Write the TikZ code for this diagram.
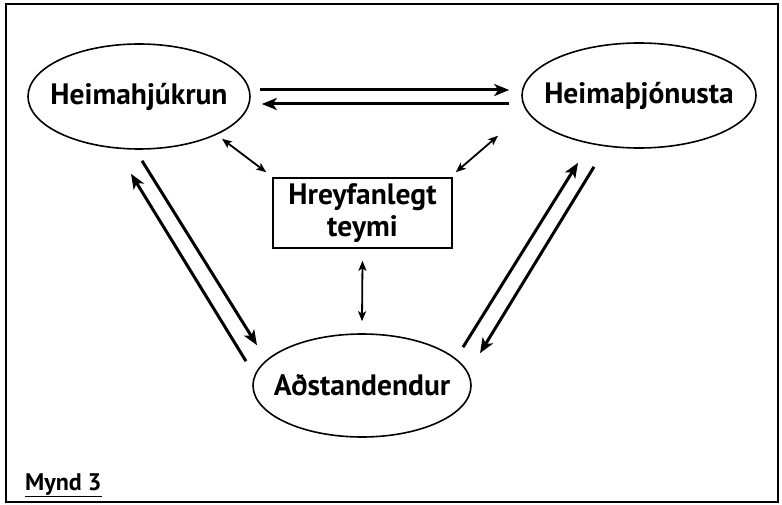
\documentclass[tikz,border=0pt]{standalone}
\usepackage{fontspec}
\setmainfont{PT Sans}
\usetikzlibrary{arrows.meta,shapes.geometric}

\tikzset{
  oval/.style={draw,ellipse,line width=1.6pt,inner xsep=-30pt,inner ysep=-10pt,font=\fontsize{29.5}{33}\selectfont\bfseries},
  teambox/.style={draw,rectangle,line width=1.6pt,inner sep=0pt,align=center,font=\fontsize{29.5}{32}\selectfont\bfseries},
  flow/.style={line width=3pt,-{Stealth[length=15pt,width=12pt,inset=4pt]}},
  link/.style={line width=1.8pt,{Stealth[length=10pt,width=8pt,inset=2.5pt]}-{Stealth[length=10pt,width=8pt,inset=2.5pt]}}
}

\begin{document}
\begin{tikzpicture}[line cap=butt,line join=miter,x=1pt,y=-1pt]%Mynd 3
			\useasboundingbox (0,0) rectangle (782,505);
			\draw [line width=1.8pt] (6,4) rectangle (778,502);
			\node [oval,minimum width=222pt,minimum height=105pt] (hj) at (139,96.5) {Heimahjúkrun};
			\node [oval,minimum width=234pt,minimum height=105pt] (hs) at (639,95.5) {Heimaþjónusta};
			\node [oval,minimum width=218pt,minimum height=103pt] (ad) at (362,385.5) {Aðstandendur};
			\node [teambox,minimum width=179pt,minimum height=70pt] (ht) at (362.5,213) {Hreyfanlegt\\teymi};
			% milli heimahjukrunar og heimathjonustu
			\draw [flow] ([shift={(9,-6.5)}]hj.east) -- ([shift={(-12,-5.5)}]hs.west);
			\draw [flow] ([shift={(-12,8.5)}]hs.west) -- ([shift={(11,7.5)}]hj.east);
			% nidur til adstandenda
			\draw [flow] ([shift={(3,11)}]hj.south) -- ([shift={(-105,12)}]ad.north);
			\draw [flow] ([shift={(-116,28)}]ad.north) -- ([shift={(-8,24)}]hj.south);
			\draw [flow] ([shift={(101,14)}]ad.north) -- ([shift={(-61,14)}]hs.south);
			\draw [flow] ([shift={(-45,18)}]hs.south) -- ([shift={(118,20)}]ad.north);
			% teymid
			\draw [link] ([shift={(83,-11)}]hj.south) -- ([shift={(-6,-5)}]ht.north west);
			\draw [link] ([shift={(-141,-13)}]hs.south) -- ([shift={(3,-5)}]ht.north east);
			\draw [link] ([shift={(0,12)}]ht.south) -- ([shift={(0,-12)}]ad.north);
			\node [anchor=base west,inner sep=0pt,font=\fontsize{24}{28}\selectfont\bfseries] (mynd) at (25,490) {\underline{Mynd 3}};
		\end{tikzpicture}
\end{document}
